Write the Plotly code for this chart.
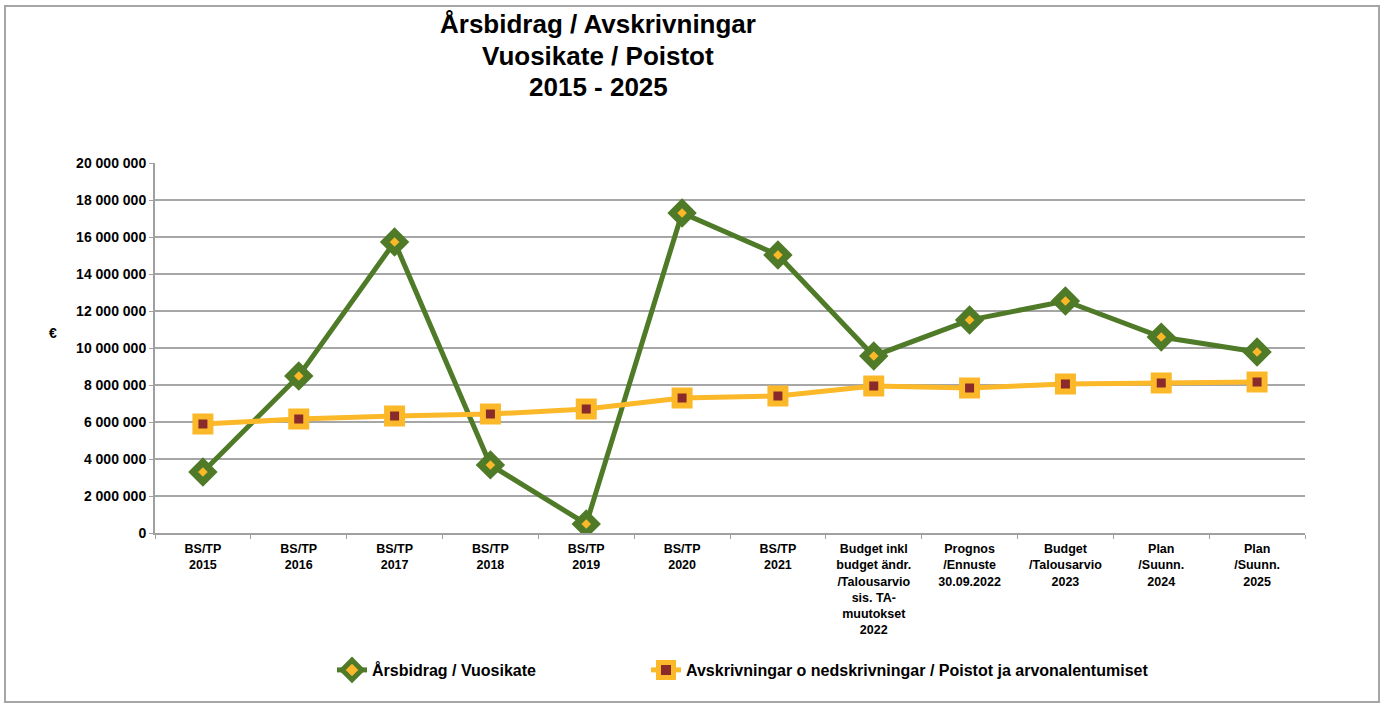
import plotly.graph_objects as go

# categories (x-axis labels)
categories = [
    "BS/TP<br>2015", "BS/TP<br>2016", "BS/TP<br>2017", "BS/TP<br>2018",
    "BS/TP<br>2019", "BS/TP<br>2020", "BS/TP<br>2021",
    "Budget inkl<br>budget ändr.<br>/Talousarvio<br>sis. TA-<br>muutokset<br>2022",
    "Prognos<br>/Ennuste<br>30.09.2022", "Budget<br>/Talousarvio<br>2023",
    "Plan<br>/Suunn.<br>2024", "Plan<br>/Suunn.<br>2025",
]

# Årsbidrag / Vuosikate
arsbidrag = [3300000, 8490000, 15730000, 3680000, 490000, 17300000,
             15030000, 9570000, 11510000, 12540000, 10590000, 9780000]

# Avskrivningar / Poistot
avskrivningar = [5890000, 6160000, 6320000, 6430000, 6700000, 7300000,
                 7410000, 7950000, 7840000, 8050000, 8110000, 8160000]

title_lines = ["Årsbidrag / Avskrivningar", "Vuosikate / Poistot", "2015 - 2025"]

green = "#4f7a28"
orange = "#fbb829"
darkred = "#8b2a2a"
font_family = "Liberation Sans, Arial, sans-serif"

fig = go.Figure()
fig.add_trace(go.Scatter(
    x=categories, y=arsbidrag, mode="lines+markers",
    name="Årsbidrag / Vuosikate", legend="legend",
    line=dict(color=green, width=5),
    marker=dict(symbol="diamond", size=15, color=orange,
                line=dict(color=green, width=7)),
))
fig.add_trace(go.Scatter(
    x=categories, y=avskrivningar, mode="lines+markers",
    name="Avskrivningar o nedskrivningar / Poistot ja arvonalentumiset", legend="legend2",
    line=dict(color=orange, width=5),
    marker=dict(symbol="square", size=15, color=darkred,
                line=dict(color=orange, width=6)),
))

# plot area in pixels: x 155..1305, y 163..533
def px_x(x):
    return (x - 155) / 1150

def px_y(y):
    return (533 - y) / 370

annotations = []
for i, line in enumerate(title_lines):
    annotations.append(dict(
        text="<b>" + line + "</b>", xref="paper", yref="paper",
        x=px_x(598), y=px_y([24, 56, 87][i]), xanchor="center", yanchor="middle",
        showarrow=False, font=dict(size=26, family=font_family)))
annotations.append(dict(text="<b>€</b>", xref="paper", yref="paper",
                        x=px_x(47), y=px_y(333), showarrow=False,
                        font=dict(size=14, family=font_family)))

legend_font = dict(size=16, family=font_family, weight="bold")
fig.update_layout(
    width=1384, height=704,
    margin=dict(l=155, r=79, t=163, b=171),
    paper_bgcolor="white", plot_bgcolor="white",
    font=dict(family=font_family, color="black", size=12),
    separators=", ",
    showlegend=True,
    legend=dict(orientation="h", x=px_x(332), xanchor="left", y=px_y(670), yanchor="middle",
                font=legend_font, itemwidth=30, bgcolor="rgba(0,0,0,0)"),
    legend2=dict(orientation="h", x=px_x(646), xanchor="left", y=px_y(670), yanchor="middle",
                 font=legend_font, itemwidth=30, bgcolor="rgba(0,0,0,0)"),
    annotations=annotations,
    shapes=[
        dict(type="rect", xref="paper", yref="paper",
             x0=px_x(5), x1=px_x(1379), y0=px_y(702), y1=px_y(6),
             line=dict(color="#a6a6a6", width=2)),
    ],
)

fig.update_xaxes(
    type="category", range=[-0.5, len(categories) - 0.5],
    showgrid=False, showline=True, linecolor="#a0a0a0", linewidth=2,
    ticks="outside", tickson="boundaries", ticklen=4, tickcolor="#a0a0a0",
    tickfont=dict(size=12.5, family=font_family, weight="bold"),
    tickangle=0, ticklabelstandoff=3,
)
fig.update_yaxes(
    range=[0, 20000000], dtick=2000000, tickformat=",.0f",
    showgrid=True, gridcolor="#a6a6a6", gridwidth=2,
    showline=True, linecolor="#a0a0a0", linewidth=2,
    ticks="outside", ticklen=4, tickcolor="#a0a0a0",
    tickfont=dict(size=14, family=font_family, weight="bold"),
    zeroline=False,
)

fig.write_html("out.html", config={"displayModeBar": False},
               post_script="document.body.style.margin='0px';")
